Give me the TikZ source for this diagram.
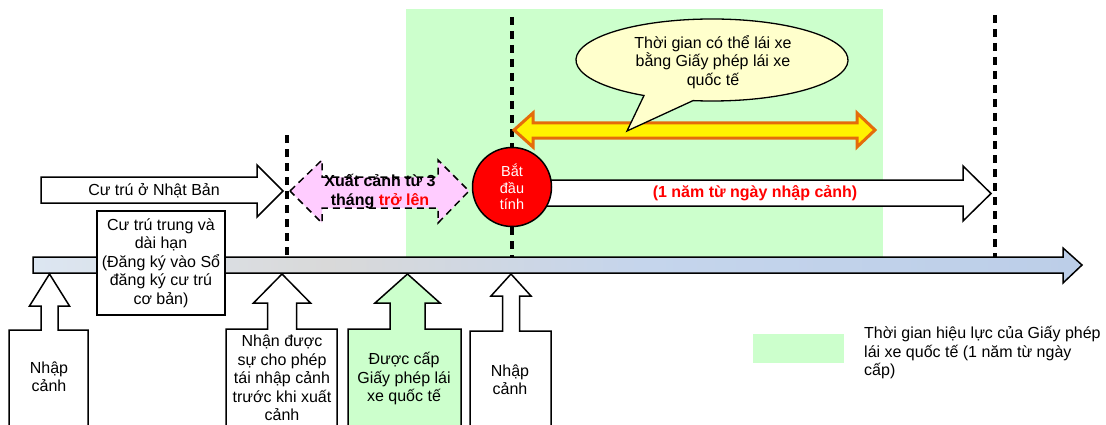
\documentclass[tikz,border=0pt]{standalone}
\usepackage{fontspec}
\usetikzlibrary{calc}
\setmainfont{Liberation Sans}
\definecolor{bandgreen}{RGB}{204,255,204}
\definecolor{pinkfill}{RGB}{255,204,255}
\definecolor{calloutfill}{RGB}{255,255,204}
\definecolor{arroworange}{RGB}{228,108,10}
\definecolor{barA}{RGB}{220,230,242}
\definecolor{barB}{RGB}{217,217,217}
\definecolor{barC}{RGB}{197,213,236}
\definecolor{barD}{RGB}{188,206,232}
\pgfdeclarehorizontalshading{barshade}{100bp}{color(0bp)=(barA); color(25bp)=(barA); color(39bp)=(barB); color(54bp)=(barC); color(75bp)=(barD); color(100bp)=(barD)}
\tikzset{
  blockline/.style={draw=black, line width=1.5pt, line join=miter},
  vdash/.style={draw=black, line width=3.2pt, dash pattern=on 8pt off 6pt},
  txt/.style={inner sep=0pt, align=center, font=\fontsize{16}{18.5}\selectfont},
  boldtxt/.style={inner sep=0pt, align=center, font=\fontsize{16}{19}\selectfont\bfseries},
}
\newcommand{\MyUpArrow}[8]{%
  \filldraw[blockline, fill=#8] (#5,-10) -- (#5,#7) -- ({#1-#3},#7) -- ({#1-#3},#4) -- ({#1-#2},#4) -- (#1,150) -- ({#1+#2},#4) -- ({#1+#3},#4) -- ({#1+#3},#7) -- (#6,#7) -- (#6,-10) -- cycle;}
\begin{document}
\begin{tikzpicture}[x=1pt,y=1pt]
\useasboundingbox (0,0) rectangle (1106,424);
% green validity band
\fill[bandgreen] (406,167) rectangle (883,415);
% legend swatch
\fill[bandgreen] (753,61) rectangle (844,90);
% dashed vertical markers
\coordinate (d1t) at (287,289); \coordinate (d1b) at (287,167);
\coordinate (d2t) at (512,407); \coordinate (d2b) at (512,167);
\coordinate (d3t) at (995,409); \coordinate (d3b) at (995,167);
\draw[vdash] (d1t) -- (d1b);
\draw[vdash] (d2t) -- (d2b);
\draw[vdash] (d3t) -- (d3b);
% residence arrow
\filldraw[blockline, fill=white] (41,247) -- (257,247) -- (257,259) -- (283,233) -- (257,207) -- (257,221) -- (41,221) -- cycle;
\node[txt] (reside) at (154,233) {Cư trú ở Nhật Bản};
% pink dashed double arrow
\filldraw[fill=pinkfill, draw=black, line width=1.5pt, dash pattern=on 7pt off 5pt]
  (290,233) -- (322,264) -- (322,247) -- (438,247) -- (438,264) -- (469,233) -- (438,201) -- (438,216) -- (322,216) -- (322,201) -- cycle;
\node[boldtxt] (leave) at (380,232) {Xuất cảnh từ 3\\tháng \textcolor{red}{trở lên}};
% one-year arrow
\filldraw[blockline, fill=white] (540,244) -- (963,244) -- (963,258) -- (991,230.5) -- (963,203) -- (963,218) -- (540,218) -- cycle;
\node[boldtxt, text=red] (oneyear) at (755,231) {(1 năm từ ngày nhập cảnh)};
% start circle
\node[circle, fill=red, draw=black, line width=1.5pt, minimum size=79pt, inner sep=0pt, text=white, align=center, font=\fontsize{14.5}{16.5}\selectfont] (start) at (512,237) {Bắt\\đầu\\tính};
% yellow double arrow
\filldraw[fill=yellow, draw=arroworange, line width=3pt, line join=miter]
  (514,294) -- (533,311) -- (533,301) -- (857,301) -- (857,311) -- (875,294) -- (857,277) -- (857,286) -- (533,286) -- (533,277) -- cycle;
% callout
\filldraw[fill=calloutfill, draw=black, line width=1.3pt]
  ($(712,364)+(262:136pt and 41pt)$) -- (627,293) -- ($(712,364)+(240:136pt and 41pt)$)
  arc[start angle=240, end angle=-98, x radius=136pt, y radius=41pt] -- cycle;
\node[txt] (callout) at (713,362) {Thời gian có thể lái xe\\bằng Giấy phép lái xe\\quốc tế};
% timeline bar
\shadedraw[shading=barshade, draw=black, line width=1.5pt, line join=miter]
  (33,167) -- (1063,167) -- (1063,176) -- (1082,159) -- (1063,141) -- (1063,151) -- (33,151) -- cycle;
% mid/long term residence box
\node[txt, draw=black, line width=1.5pt, fill=white, minimum width=128pt, minimum height=104pt] (midlong) at (161,161) {Cư trú trung và\\dài hạn\\(Đăng ký vào Sổ\\đăng ký cư trú\\cơ bản)};
% up arrows
\MyUpArrow{49.5}{20}{8.5}{118}{9}{88}{94}{white}
\node[txt] (entry1) at (49,47) {Nhập\\cảnh};
\MyUpArrow{282}{28.5}{14.5}{121}{226}{337}{95}{white}
\node[txt] (reentry) at (282,46) {Nhận được\\sự cho phép\\tái nhập cảnh\\trước khi xuất\\cảnh};
\MyUpArrow{407.5}{32.5}{17.5}{121}{348}{461}{95}{bandgreen}
\node[txt] (issued) at (404,45) {Được cấp\\Giấy phép lái\\xe quốc tế};
\MyUpArrow{511}{20}{8.5}{128}{470}{551}{93}{white}
\node[txt] (entry2) at (510,44) {Nhập\\cảnh};
% legend text
\node[txt, align=left, anchor=west] (legend) at (864,71) {Thời gian hiệu lực của Giấy phép\\lái xe quốc tế (1 năm từ ngày\\cấp)};
\end{tikzpicture}
\end{document}
